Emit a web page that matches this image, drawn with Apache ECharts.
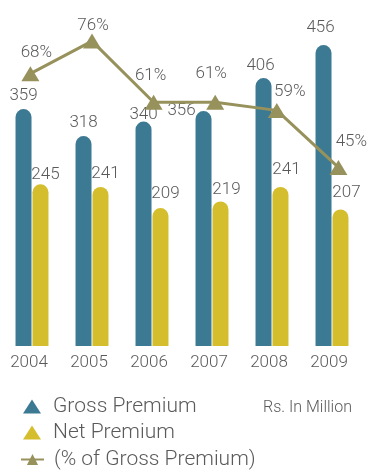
<!DOCTYPE html>
<html>
<head>
<meta charset="utf-8">
<script src="https://cdn.jsdelivr.net/npm/echarts@6/dist/echarts.min.js"></script>
<style>
  html, body { margin: 0; padding: 0; background: #ffffff; }
  #chart { width: 372px; height: 471px; }
</style>
</head>
<body>
<div id="chart"></div>
<script>
// Premium figures, Rs. in million
const years = ['2004', '2005', '2006', '2007', '2008', '2009'];
const grossPremium = [359, 318, 340, 356, 406, 456];
const netPremium = [245, 241, 209, 219, 241, 207];
const netShareOfGross = [68, 76, 61, 61, 59, 45];

// Per-point label nudges (px) so labels clear the line and bars
const grossLabelNudge = [[0, 0], [0, 0], [0, 7], [-22, 13], [-3, 1], [-3, -4]];
const netLabelNudge = [[5, 4], [5, 0], [5, -1], [6, 2], [6, -4], [6, -3]];
const pctLabelNudge = [[6, -21], [1, -15], [-3, -26], [-4, -28], [13, -19], [13, -26]];

const FONT = 'Roboto';
const TEXT = '#5a5a5a';
const GROSS = '#3c7a94';
const NET = '#d5be2d';
const OLIVE = '#97915b';

const chart = echarts.init(document.getElementById('chart'), null, { renderer: 'canvas' });

const labelBase = {
  show: true,
  fontFamily: FONT,
  fontWeight: 300,
  fontSize: 17,
  color: TEXT
};

chart.setOption({
  animation: false,
  backgroundColor: '#ffffff',
  textStyle: { fontFamily: FONT, fontWeight: 300 },
  title: {
    text: 'Rs. In Million',
    left: 258,
    top: 395,
    textStyle: { fontFamily: FONT, fontWeight: 300, fontSize: 16, color: TEXT }
  },
  legend: [
    {
      data: ['Gross Premium', 'Net Premium'],
      orient: 'vertical',
      left: 18,
      top: 391,
      icon: 'triangle',
      itemWidth: 18,
      itemHeight: 14,
      itemGap: 5,
      textStyle: { fontFamily: FONT, fontWeight: 300, fontSize: 21, color: TEXT, padding: [0, 0, 0, 7] }
    },
    {
      data: ['(% of Gross Premium)'],
      orient: 'vertical',
      left: 15,
      top: 444,
      itemWidth: 23,
      itemHeight: 14,
      textStyle: { fontFamily: FONT, fontWeight: 300, fontSize: 21, color: TEXT, padding: [0, 0, 0, 5] }
    }
  ],
  grid: [
    { left: 2, right: 10, top: 16, bottom: 125, containLabel: false, outerBoundsMode: 'none' },
    { left: 30.4, right: 33.6, top: 24.8, bottom: 120.2, containLabel: false, outerBoundsMode: 'none' }
  ],
  xAxis: [
    {
      type: 'category',
      gridIndex: 0,
      data: years,
      axisLine: { show: false },
      axisTick: { show: false },
      axisLabel: {
        margin: 8,
        fontFamily: FONT,
        fontWeight: 300,
        fontSize: 17,
        color: TEXT,
        padding: [0, 6, 0, 0]
      }
    },
    {
      type: 'category',
      gridIndex: 1,
      data: years,
      boundaryGap: false,
      show: false
    }
  ],
  yAxis: [
    { type: 'value', gridIndex: 0, min: 0, max: 500, show: false, splitLine: { show: false } },
    { type: 'value', gridIndex: 1, min: 0, max: 80, show: false, splitLine: { show: false } }
  ],
  series: [
    {
      name: 'Gross Premium',
      type: 'bar',
      xAxisIndex: 0,
      yAxisIndex: 0,
      barWidth: 16,
      barGap: '6%',
      itemStyle: { color: GROSS, borderRadius: [8, 8, 0, 0] },
      label: Object.assign({}, labelBase, { position: 'top', distance: 5 }),
      data: grossPremium.map((v, i) => ({ value: v, label: { offset: grossLabelNudge[i] } }))
    },
    {
      name: 'Net Premium',
      type: 'bar',
      xAxisIndex: 0,
      yAxisIndex: 0,
      barWidth: 16,
      itemStyle: { color: NET, borderRadius: [8, 8, 0, 0] },
      label: Object.assign({}, labelBase, { position: 'top', distance: 5 }),
      data: netPremium.map((v, i) => ({ value: v, label: { offset: netLabelNudge[i] } }))
    },
    {
      name: '(% of Gross Premium)',
      type: 'line',
      xAxisIndex: 1,
      yAxisIndex: 1,
      symbol: 'triangle',
      symbolSize: [18, 15],
      z: 5,
      lineStyle: { color: OLIVE, width: 3 },
      itemStyle: { color: OLIVE },
      label: Object.assign({}, labelBase, {
        position: 'inside',
        formatter: p => p.value + '%'
      }),
      data: netShareOfGross.map((v, i) => ({ value: v, label: { offset: pctLabelNudge[i] } }))
    }
  ]
});
</script>
</body>
</html>
